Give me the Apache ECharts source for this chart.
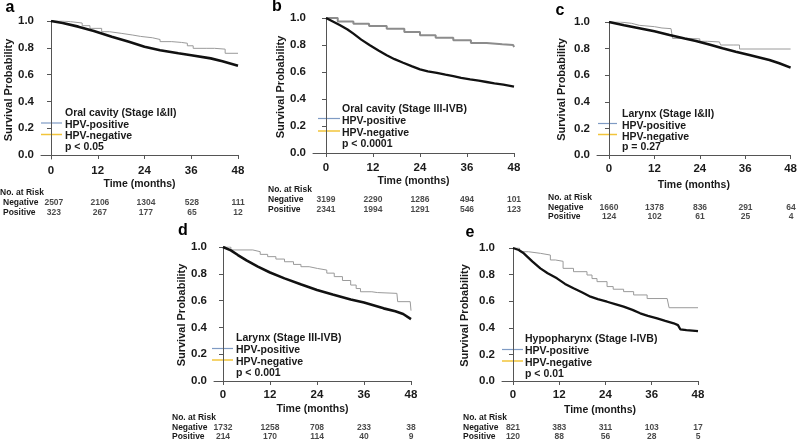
<!DOCTYPE html>
<html><head><meta charset="utf-8">
<script src="https://cdn.jsdelivr.net/npm/echarts@6/dist/echarts.min.js"></script>
<style>html,body{margin:0;padding:0;background:#fff}#c{width:800px;height:443px}</style>
</head><body><div id="c"></div><script>
// ---------- data ----------
const tickMonths = [0, 12, 24, 36, 48];
const yTicks = [0, 0.2, 0.4, 0.6, 0.8, 1.0];
const riskRows = ['Negative', 'Positive'];
const legendNames = ['HPV-positive', 'HPV-negative'];
const panelLetters = ['a', 'b', 'c', 'd', 'e'];
const panelTitles = ['Oral cavity (Stage I&II)', 'Oral cavity (Stage III-IVB)', 'Larynx (Stage I&II)', 'Larynx (Stage III-IVB)', 'Hypopharynx (Stage I-IVB)'];
const pValues = ['p < 0.05', 'p < 0.0001', 'p = 0.27', 'p < 0.001', 'p < 0.01'];

// survival curves [month, probability]
const posA = [[0,1],[3,0.995],[5,0.985],[8,0.965],[10,0.945],[13,0.92],[15,0.908],[18,0.895],[21,0.885],[23,0.875],[26,0.862],[28,0.846],[31,0.84],[33.5,0.834],[35,0.815],[36.5,0.796],[40,0.796],[42,0.79],[44.7,0.759],[48,0.759]];
const negA = [[0,1],[3,0.985],[7,0.958],[11,0.925],[15.6,0.883],[20,0.845],[24,0.808],[28,0.782],[32.7,0.759],[36,0.745],[41,0.721],[44,0.7],[48,0.666]];
const posB = [[0,1],[3,0.975],[7,0.958],[11,0.94],[15.5,0.921],[20,0.897],[24,0.872],[28,0.853],[32.5,0.835],[37,0.815],[41,0.805],[45,0.8],[47.8,0.798],[48,0.785]];
const negB = [[0,1],[2,0.97],[3.6,0.946],[5.5,0.915],[7,0.884],[9,0.84],[11.2,0.798],[13.5,0.758],[15.5,0.724],[17.5,0.695],[19.7,0.669],[22,0.642],[24,0.62],[26,0.605],[28.3,0.593],[30.5,0.58],[32.5,0.57],[34.5,0.557],[36.8,0.546],[39,0.536],[41,0.526],[43,0.516],[45.3,0.506],[47,0.498],[48,0.492]];
const posC = [[0,1],[3,0.99],[6,0.975],[8,0.965],[12,0.955],[14,0.95],[16.4,0.94],[16.8,0.877],[21,0.873],[24,0.855],[26,0.85],[29.2,0.847],[29.5,0.827],[33,0.827],[34.5,0.797],[48,0.797]];
const negC = [[0,1],[4,0.975],[9,0.947],[12,0.93],[16,0.902],[20,0.876],[23,0.857],[26.5,0.83],[30,0.802],[33.5,0.777],[37.1,0.752],[40,0.732],[42.4,0.714],[45,0.69],[48,0.657]];
const posD = [[0,1],[2,0.978],[7.6,0.965],[9.5,0.945],[11.4,0.928],[13.5,0.91],[15.7,0.89],[18,0.87],[19.9,0.853],[22,0.84],[24.1,0.828],[26.5,0.805],[28.4,0.779],[30.5,0.75],[32.6,0.716],[34,0.69],[35.1,0.666],[38,0.66],[39.4,0.654],[44.4,0.654],[44.6,0.592],[47.8,0.592],[48,0.525]];
const negD = [[0,1],[2,0.975],[3.8,0.94],[6,0.9],[8.9,0.853],[12,0.81],[15.7,0.766],[20,0.72],[24,0.679],[28,0.645],[32.6,0.609],[36,0.585],[41,0.542],[44,0.52],[46,0.5],[48,0.462]];
const posE = [[0,1],[1.7,0.972],[4,0.96],[7.1,0.947],[9.7,0.91],[11,0.9],[13,0.847],[15.7,0.822],[19.2,0.797],[20.5,0.77],[21.8,0.747],[24.4,0.71],[26,0.69],[28.7,0.672],[31.3,0.647],[34.8,0.62],[40,0.62],[40.5,0.551],[48,0.551]];
const negE = [[0,1],[1.5,0.985],[2.8,0.96],[5,0.9],[7.1,0.847],[9,0.81],[11.4,0.772],[13.5,0.73],[15.7,0.697],[18,0.665],[20.1,0.634],[22,0.615],[24.4,0.596],[26.5,0.578],[28.7,0.559],[31,0.535],[33,0.509],[35,0.49],[37.4,0.471],[39.5,0.452],[41.7,0.434],[42.8,0.42],[43.4,0.389],[45,0.382],[48,0.375]];

// numbers at risk
const riskNegA = [2507, 2106, 1304, 528, 111];
const riskPosA = [323, 267, 177, 65, 12];
const riskNegB = [3199, 2290, 1286, 494, 101];
const riskPosB = [2341, 1994, 1291, 546, 123];
const riskNegC = [1660, 1378, 836, 291, 64];
const riskPosC = [124, 102, 61, 25, 4];
const riskNegD = [1732, 1258, 708, 233, 38];
const riskPosD = [214, 170, 114, 40, 9];
const riskNegE = [821, 383, 311, 103, 17];
const riskPosE = [120, 88, 56, 28, 5];

const curves = [[posA, negA], [posB, negB], [posC, negC], [posD, negD], [posE, negE]];
const risks = [[riskNegA, riskPosA], [riskNegB, riskPosB], [riskNegC, riskPosC], [riskNegD, riskPosD], [riskNegE, riskPosE]];

// ---------- layout ----------
const layout = [
  {left:41, top:21, width:197, height:138, xmin:-2.57, ymin:-0.03, nameGap:27, xNameGap:20, riskTop:198, rowH:10, rowLabelX:0, headY:193,
   lg:{x:65, lx0:41, lx1:62, titleY:113, posY:125, posLY:123, negY:136.5, negLY:134.5, pY:147}, letter:[10,8], grayW:1, grayC:'#9a9a9a', blackW:2.6},
  {left:313, top:18, width:201, height:138, xmin:-3.32, ymin:-0.022, nameGap:26, xNameGap:20, riskTop:195, rowH:10, rowLabelX:268, headY:190,
   lg:{x:342, lx0:318, lx1:340, titleY:109, posY:121, posLY:118.5, negY:133, negLY:131, pY:144}, letter:[277,7], grayW:2, grayC:'#8c8c8c', blackW:2.3},
  {left:597, top:22, width:194, height:135, xmin:-3.17, ymin:-0.015, nameGap:30, xNameGap:23, riskTop:203.5, rowH:9, rowLabelX:548, headY:198,
   lg:{x:622, lx0:598, lx1:617, titleY:114, posY:126, posLY:123.5, negY:137, negLY:134.5, pY:147}, letter:[560,11], grayW:1, grayC:'#9a9a9a', blackW:2.6},
  {left:214, top:247, width:197, height:136, xmin:-2.3, ymin:-0.015, nameGap:27, xNameGap:21, riskTop:423.5, rowH:9, rowLabelX:172, headY:418,
   lg:{x:236, lx0:212, lx1:233, titleY:338, posY:350, posLY:348.5, negY:362, negLY:360, pY:373}, letter:[183,231], grayW:1, grayC:'#9a9a9a', blackW:2.6},
  {left:502, top:248, width:196, height:135, xmin:-2.85, ymin:-0.015, nameGap:32, xNameGap:22, riskTop:423.5, rowH:9, rowLabelX:463, headY:418,
   lg:{x:525, lx0:502, lx1:523, titleY:339, posY:351, posLY:349.5, negY:363, negLY:361, pY:374}, letter:[470,233], grayW:1, grayC:'#9a9a9a', blackW:2.3}
];

const FONT = 'Liberation Sans, Arial, sans-serif';
const AXC = '#555';
const TXT = '#1a1a1a';

const grid = [], xAxis = [], yAxis = [], series = [], graphic = [];

layout.forEach((L, i) => {
  grid.push({left: L.left, top: L.top, width: L.width, height: L.height, containLabel: false});
  xAxis.push({
    type: 'value', gridIndex: i, min: L.xmin, max: 48,
    name: 'Time (months)', nameLocation: 'middle', nameGap: L.xNameGap,
    nameTextStyle: {fontFamily: FONT, fontSize: 10.5, fontWeight: 'bold', color: TXT},
    axisLine: {lineStyle: {color: AXC, width: 1}},
    axisTick: {length: 4, lineStyle: {color: AXC}, customValues: tickMonths},
    axisLabel: {customValues: tickMonths, margin: 6, fontFamily: FONT, fontSize: 11.5, fontWeight: 'bold', color: TXT},
    splitLine: {show: false}
  });
  yAxis.push({
    type: 'value', gridIndex: i, min: L.ymin, max: 1,
    name: 'Survival Probability', nameLocation: 'middle', nameGap: L.nameGap,
    nameTextStyle: {fontFamily: FONT, fontSize: 11, fontWeight: 'bold', color: TXT},
    axisLine: {show: true, lineStyle: {color: AXC, width: 1}},
    axisTick: {show: true, length: 4, lineStyle: {color: AXC}, customValues: yTicks},
    axisLabel: {customValues: yTicks, margin: 7, fontFamily: FONT, fontSize: 11.5, fontWeight: 'bold', color: TXT,
      formatter: v => v.toFixed(1)},
    splitLine: {show: false}
  });
  const [pos, neg] = curves[i];
  series.push({
    type: 'line', name: legendNames[0], xAxisIndex: i, yAxisIndex: i, data: pos, step: 'end',
    showSymbol: false, silent: true, z: 2, lineStyle: {color: L.grayC, width: L.grayW}
  });
  series.push({
    type: 'line', name: legendNames[1], xAxisIndex: i, yAxisIndex: i, data: neg,
    showSymbol: false, silent: true, z: 3, lineStyle: {color: '#111', width: L.blackW}
  });

  // legend graphics
  const g = L.lg;
  const tStyle = (text, y) => ({type: 'text', style: {text, x: g.x, y, fill: TXT, font: 'bold 10.5px ' + FONT, verticalAlign: 'middle', align: 'left'}});
  graphic.push(tStyle(panelTitles[i], g.titleY));
  graphic.push(tStyle(legendNames[0], g.posY));
  graphic.push(tStyle(legendNames[1], g.negY));
  graphic.push(tStyle(pValues[i], g.pY));
  graphic.push({type: 'line', shape: {x1: g.lx0, y1: g.posLY, x2: g.lx1, y2: g.posLY}, style: {stroke: '#7f9bc4', lineWidth: 1.2}});
  graphic.push({type: 'line', shape: {x1: g.lx0, y1: g.negLY, x2: g.lx1, y2: g.negLY}, style: {stroke: '#f2c43a', lineWidth: 1.5}});
  // panel letter
  graphic.push({type: 'text', style: {text: panelLetters[i], x: L.letter[0], y: L.letter[1], fill: '#000', font: 'bold 16px ' + FONT, align: 'center', verticalAlign: 'middle'}});
  // risk header
  graphic.push({type: 'text', style: {text: 'No. at Risk', x: L.rowLabelX, y: L.headY, fill: TXT, font: 'bold 8.5px ' + FONT, align: 'left', verticalAlign: 'middle'}});
});

// risk table grids
layout.forEach((L, i) => {
  const gi = layout.length + i;
  grid.push({left: L.left, top: L.riskTop, width: L.width, height: L.rowH * 2});
  xAxis.push({type: 'value', gridIndex: gi, min: L.xmin, max: 48, show: false});
  yAxis.push({
    type: 'category', gridIndex: gi, data: riskRows, inverse: true,
    axisLine: {show: false}, axisTick: {show: false}, splitLine: {show: false},
    axisLabel: {interval: 0, align: 'left', margin: L.left - L.rowLabelX, fontFamily: FONT, fontSize: 8.5, fontWeight: 'bold', color: TXT}
  });
  const [rn, rp] = risks[i];
  const data = [];
  tickMonths.forEach((m, k) => {
    data.push([m, riskRows[0], rn[k]]);
    data.push([m, riskRows[1], rp[k]]);
  });
  series.push({
    type: 'scatter', xAxisIndex: gi, yAxisIndex: gi, data, symbolSize: 1, silent: true,
    itemStyle: {color: 'transparent'},
    label: {show: true, position: 'inside', formatter: p => String(p.value[2]),
      fontFamily: FONT, fontSize: 8.5, fontWeight: 'bold', color: TXT}
  });
});

const chart = echarts.init(document.getElementById('c'), null, {renderer: 'canvas'});
chart.setOption({
  backgroundColor: '#fff', animation: false,
  grid, xAxis, yAxis, series, graphic
});
</script></body></html>
